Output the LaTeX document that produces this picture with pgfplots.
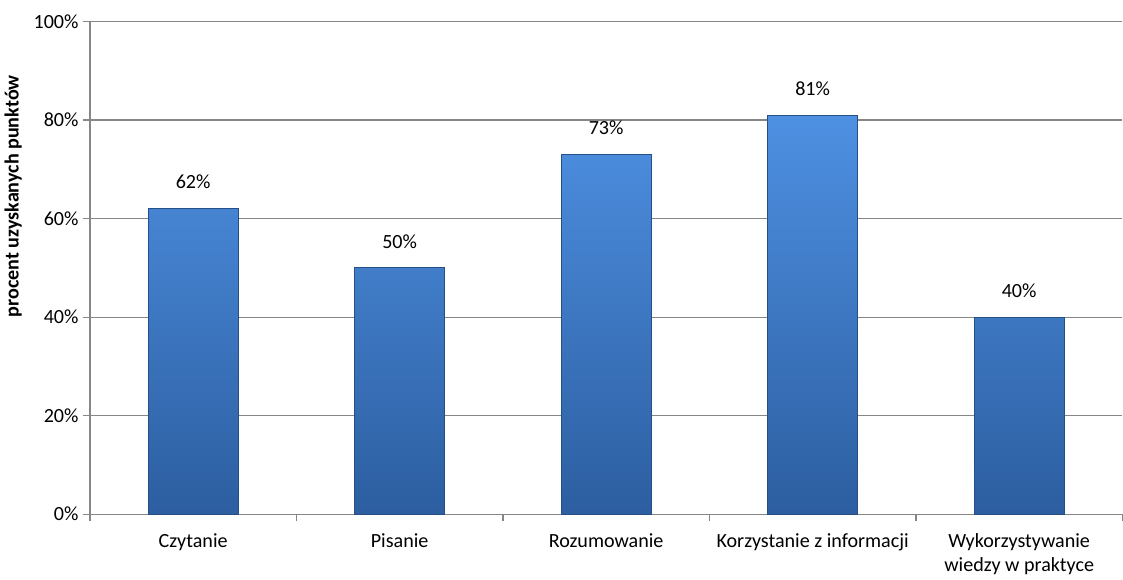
\documentclass[border=0pt]{standalone}
\usepackage{pgfplots}
\pgfplotsset{compat=1.18}
\usepackage{fontspec}
\setmainfont{Carlito}

\definecolor{barTop}{RGB}{78,144,226}
\definecolor{barBot}{RGB}{44,94,160}
\definecolor{barEdge}{RGB}{38,78,135}
\definecolor{axGray}{RGB}{134,134,134}

\begin{document}
\begin{tikzpicture}[font=\fontsize{15}{18}\selectfont]
\begin{axis}[
    scale only axis,
    width=771pt, height=368pt,
    xmin=-0.5, xmax=4.5,
    ymin=0, ymax=100,
    clip=false,
    axis lines*=left,
    axis line style={axGray, line width=0.9pt},
    ymajorgrids,
    grid style={axGray, line width=0.9pt},
    ytick={0,20,...,100},
    yticklabel={\pgfmathprintnumber{\tick}\%},
    /pgf/number format/assume math mode=true,
    xtick={0,1,2,3,4},
    xticklabels={Czytanie, Pisanie, Rozumowanie, Korzystanie z informacji, {Wykorzystywanie\\wiedzy w praktyce}},
    x tick label style={align=center, anchor=north, yshift=-6pt},
    minor xtick={-0.5,0.5,...,4.5},
    major x tick style={draw=none},
    tick align=outside,
    tick style={axGray, line width=0.9pt},
    major tick length=5pt,
    minor tick length=5pt,
    ylabel={\textbf{procent uzyskanych punktów}},
    ylabel style={at={(ticklabel cs:0.645)}, yshift=2pt},
    ybar,
    bar width=67pt,
    nodes near coords={\pgfmathprintnumber{\pgfplotspointmeta}\%},
    every node near coord/.append style={black, yshift=11pt},
]
\addplot[top color=barTop, bottom color=barBot, draw=barEdge, line width=0.6pt]
    coordinates {(0,62) (1,50) (2,73) (3,81) (4,40)};
% room above the top gridline, as in the reference
\path (rel axis cs:1,1) -- ++(0pt,16pt);
\end{axis}
\end{tikzpicture}
\end{document}
